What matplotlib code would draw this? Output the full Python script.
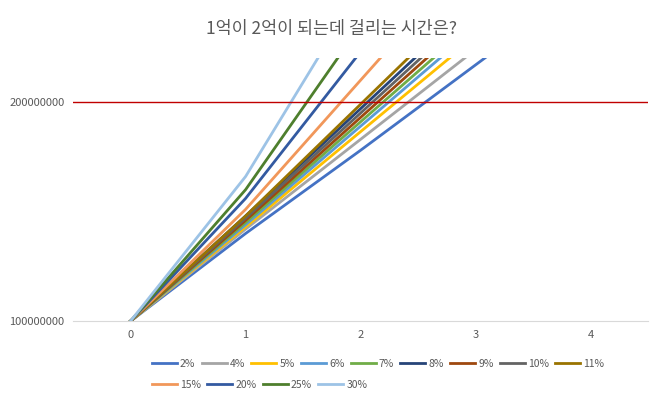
import matplotlib
matplotlib.use("Agg")
import matplotlib.pyplot as plt

plt.rcParams["font.family"] = ["Noto Sans CJK KR", "DejaVu Sans"]

YEARS = [0, 1, 2, 3, 4]
LABELS = ["2%", "4%", "5%", "6%", "7%", "8%", "9%", "10%", "11%", "15%", "20%", "25%", "30%"]
VALUES = [
    [100e6, 140e6, 178e6, 217e6, 256e6],
    [100e6, 142e6, 183e6, 224e6, 265e6],
    [100e6, 143e6, 186.5e6, 230e6, 273e6],
    [100e6, 144e6, 189e6, 234e6, 279e6],
    [100e6, 145e6, 191e6, 237e6, 283e6],
    [100e6, 148e6, 197e6, 246e6, 295e6],
    [100e6, 146e6, 193e6, 240e6, 287e6],
    [100e6, 147e6, 195e6, 243e6, 291e6],
    [100e6, 148e6, 199e6, 250e6, 301e6],
    [100e6, 151e6, 210e6, 269e6, 328e6],
    [100e6, 156e6, 223e6, 290e6, 357e6],
    [100e6, 160e6, 235e6, 310e6, 385e6],
    [100e6, 166e6, 252e6, 338e6, 424e6],
]
COLORS = ["#4472C4", "#A5A5A5", "#FFC000", "#5B9BD5", "#70AD47", "#264478",
          "#9E480E", "#636363", "#997300", "#F1975A", "#335AA1", "#4E7F2D", "#9DC3E6"]
TARGET = 200e6

fig = plt.figure(figsize=(6.63, 4.04), dpi=100)
ax = fig.add_axes([0.11, 0.205, 0.868, 0.651])
for label, vals, color in zip(LABELS, VALUES, COLORS):
    ax.plot(YEARS, vals, color=color, lw=2.0, label=label)
ax.axhline(TARGET, color="#C00000", lw=1)

ax.set_xlim(-0.5, 4.5)
ax.set_ylim(100e6, 220e6)
ax.set_xticks([0, 1, 2, 3, 4])
ax.set_yticks([100e6, 200e6])
ax.set_yticklabels(["100000000", "200000000"])
ax.tick_params(length=0, labelsize=8, colors="#595959", pad=6)
for side in ["top", "right", "left"]:
    ax.spines[side].set_visible(False)
ax.spines["bottom"].set_color("#D9D9D9")

fig.text(0.5, 0.915, "1억이 2억이 되는데 걸리는 시간은?", ha="center", fontsize=12.5, color="#595959")

handles, labels = ax.get_legend_handles_labels()
kw = dict(frameon=False, fontsize=7.5, handlelength=2.4, columnspacing=0.6,
          handletextpad=0.3, labelcolor="#595959")
fig.legend(handles[:9], labels[:9], loc="center left", bbox_to_anchor=(0.215, 0.1), ncol=9, **kw)
fig.legend(handles[9:], labels[9:], loc="center left", bbox_to_anchor=(0.215, 0.047), ncol=4, **kw)

fig.savefig("out.png", dpi=100)
